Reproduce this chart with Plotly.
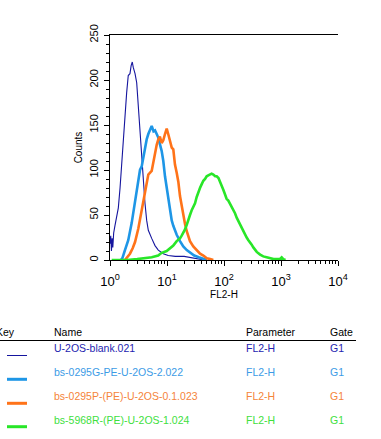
import plotly.graph_objects as go

# ---------------- data ----------------
blank_x = [1.0, 1.03, 1.06, 1.09, 1.12, 1.16, 1.22, 1.30, 1.40, 1.50, 1.60, 1.71, 1.83, 1.96, 2.09,
           2.24, 2.35, 2.46, 2.56, 2.75, 2.94, 3.14, 3.36, 3.55, 3.84, 4.11, 4.40, 4.70, 5.39, 6.16,
           7.03, 8.61, 10.5, 14.0, 20.0, 28.0, 38.0, 45.0]
blank_y = [18, 27, 10, 24, 14, 30, 38, 47, 58, 80, 105, 137, 167, 186, 205,
           207, 216, 220, 214, 207, 197, 171, 141, 115, 89, 63, 44, 33, 24, 16,
           11, 7, 5, 4, 4, 2, 1, 0]

g_x = [1.55, 1.65, 1.83, 2.09, 2.40, 2.75, 3.14, 3.36, 3.60, 4.11, 4.40, 4.70, 5.1, 5.39, 5.8,
       6.16, 6.6, 7.03, 8.07, 8.61, 9.22, 9.88, 10.5, 11.3, 12.1, 12.9, 14.8, 16.9, 19.3, 22.2,
       25.3, 30, 36, 43, 50]
g_y = [0, 2, 11, 22, 41, 63, 89, 100, 104, 125, 134, 140, 145, 149, 143,
       144, 140, 136, 121, 110, 93, 80, 66, 54, 44, 38, 28, 21, 15, 11,
       8, 5, 3, 1, 0]

p_x = [1.83, 2.0, 2.24, 2.5, 2.75, 3.14, 3.60, 4.11, 4.70, 5.39, 6.16, 6.6, 7.03, 7.5, 8.07,
       8.61, 9.22, 9.88, 10.5, 11.3, 12.1, 12.9, 13.8, 14.8, 15.8, 16.9, 18.1, 19.3, 20.7, 22.2,
       25.3, 28.9, 33.2, 38, 43.4, 50, 57, 65]
p_y = [0, 3, 7, 13, 20, 35, 55, 78, 95, 99, 121, 128, 134, 137, 130,
       133, 140, 146, 140, 132, 125, 123, 106, 97, 87, 71, 60, 48, 40, 32,
       21, 15, 11, 7, 5, 2, 1, 0]

r_x = [1.07, 2.0, 3.0, 4.11, 5.4, 7.0, 8.07, 9.88, 11.3, 12.9, 14.8, 16.9, 18.1, 19.3, 20.7,
       22.2, 23.6, 25.3, 27, 28.9, 31.0, 33.2, 35.5, 37.9, 40.5, 43.4, 46.5, 49.7, 53, 56.8,
       60.5, 64.9, 70, 74.5, 80, 85.1, 91, 97.2, 104, 111, 119, 127, 136, 146, 156,
       167, 179, 191, 204, 218, 234, 250, 268, 286, 306, 327, 350, 375, 430, 489,
       560, 641, 740, 841, 950, 1028, 1097, 1200]
r_y = [0, 0, 1, 2, 3, 5, 8, 10, 13, 16, 21, 24, 27, 30, 34,
       39, 45, 50, 55, 59, 63, 70, 76, 80, 84, 88, 90, 93, 94, 95,
       96, 95, 93, 93, 91, 87, 83, 78, 73, 68, 66, 63, 59, 56, 52,
       47, 43, 39, 35, 32, 28, 25, 22, 20, 17, 14, 11, 9, 6, 4,
       3, 2, 1, 1, 1, 3, 1, 0]

names = ["U-2OS-blank.021", "bs-0295G-PE-U-2OS-2.022",
         "bs-0295P-(PE)-U-2OS-0.1.023", "bs-5968R-(PE)-U-2OS-1.024"]
params = ["FL2-H", "FL2-H", "FL2-H", "FL2-H"]
gates = ["G1", "G1", "G1", "G1"]

x_tickvals = [1, 10, 100, 1000, 10000]
x_ticktext = ["10<sup>0</sup>", "10<sup>1</sup>", "10<sup>2</sup>", "10<sup>3</sup>", "10<sup>4</sup>"]
y_tickvals = [0, 50, 100, 150, 200, 250]

# ---------------- style ----------------
line_colors = ["#15159e", "#1e96e6", "#ff7319", "#28e628"]
text_colors = ["#2424b0", "#3c9be6", "#f5843a", "#3ee03e"]
widths = [1.1, 2.6, 2.6, 2.6]
FONT = "Liberation Sans, Arial, Helvetica, sans-serif"

W, H = 381, 439
L, R, T, B = 110, 43, 35, 179

fig = go.Figure()
series = [(blank_x, blank_y), (g_x, g_y), (p_x, p_y), (r_x, r_y)]
for i, (xs, ys) in enumerate(series):
    fig.add_trace(go.Scatter(x=xs, y=ys, mode="lines", name=names[i],
                             line=dict(color=line_colors[i], width=widths[i]),
                             showlegend=False))

fig.update_layout(
    width=W, height=H,
    margin=dict(l=L, r=R, t=T, b=B, pad=0),
    paper_bgcolor="white", plot_bgcolor="white",
    font=dict(family=FONT, color="black", size=11),
)
fig.update_xaxes(
    type="log", range=[0, 4],
    tickvals=x_tickvals, ticktext=x_ticktext,
    ticks="outside", ticklen=5, tickwidth=1, tickcolor="black",
    minor=dict(ticks="outside", ticklen=3, tickwidth=1, tickcolor="black", dtick="D1"),
    showline=True, linecolor="black", linewidth=1, mirror=True,
    showgrid=False, zeroline=False,
    tickfont=dict(size=13), ticklabelstandoff=4,
    title=dict(text="FL2-H", font=dict(size=10), standoff=0),
)
fig.update_yaxes(
    range=[0, 250],
    tickvals=y_tickvals, tickangle=-90,
    ticks="outside", ticklen=5, tickwidth=1, tickcolor="black",
    minor=dict(ticks="outside", ticklen=3, tickwidth=1, tickcolor="black", dtick=10),
    showline=True, linecolor="black", linewidth=1,
    showgrid=False, zeroline=False,
    tickfont=dict(size=11), ticklabelstandoff=2,
    title=dict(text="Counts", font=dict(size=10), standoff=3),
)

def px(x):
    return (x - L) / (W - L - R)

def py(y):
    return (H - B - y) / (H - T - B)

def ann(text, x, y, color, size=10.5):
    fig.add_annotation(text=text, x=px(x), y=py(y), xref="paper", yref="paper",
                       xanchor="left", yanchor="middle", showarrow=False,
                       font=dict(family=FONT, size=size, color=color))

# legend table
ann("Key", -6, 332, "black")
ann("Name", 52, 332, "black")
ann("Parameter", 244, 332, "black")
ann("Gate", 328, 332, "black")
fig.add_shape(type="line", xref="paper", yref="paper",
              x0=px(0), x1=px(356), y0=py(340.5), y1=py(340.5),
              line=dict(color="black", width=1))

row_text_y = [347.5, 371.7, 395.7, 419.5]
row_key_y = [355.5, 379.3, 403.3, 426.7]
for i in range(4):
    ann(names[i], 52, row_text_y[i], text_colors[i])
    ann(params[i], 244, row_text_y[i], text_colors[i])
    ann(gates[i], 328, row_text_y[i], text_colors[i])
    fig.add_shape(type="line", xref="paper", yref="paper",
                  x0=px(7), x1=px(27), y0=py(row_key_y[i]), y1=py(row_key_y[i]),
                  line=dict(color=line_colors[i], width=1 if i == 0 else 3))

fig.write_html("out.html", config={"displayModeBar": False},
               post_script="document.body.style.margin='0';document.body.style.overflow='hidden';")
